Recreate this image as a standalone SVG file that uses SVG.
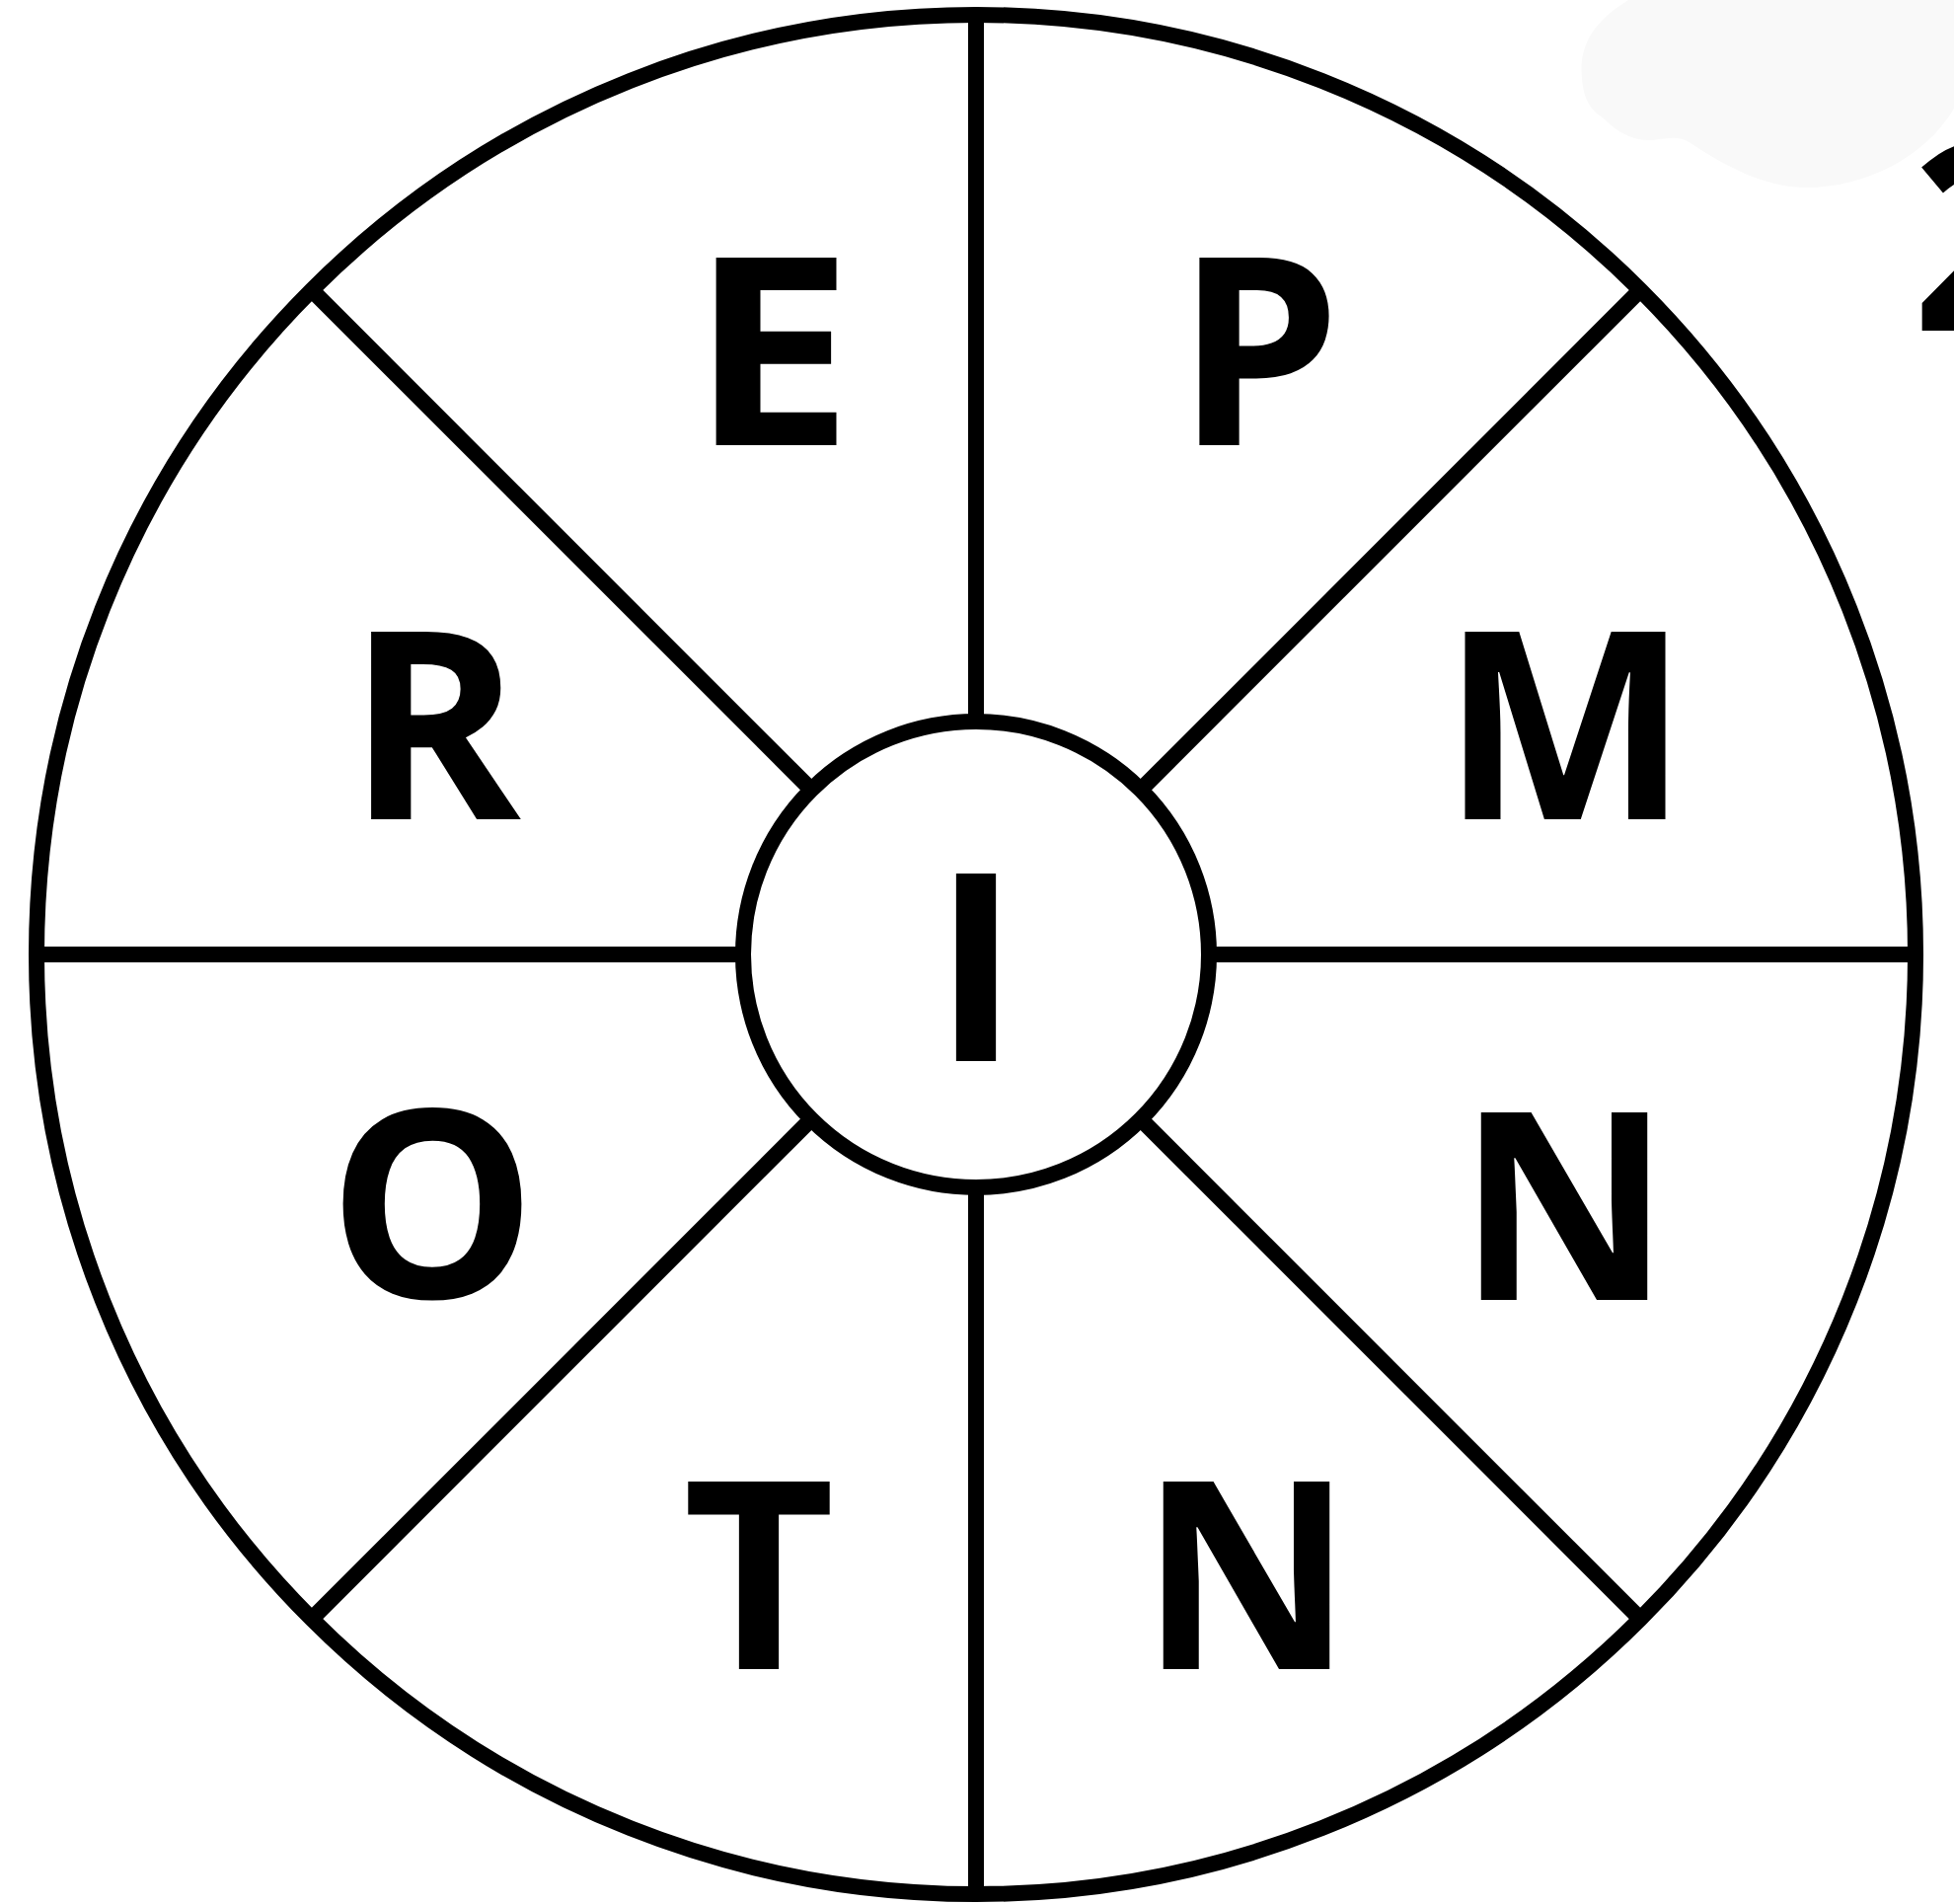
<svg xmlns="http://www.w3.org/2000/svg" width="1980" height="1929" viewBox="0 0 1980 1929">
<style>
.ring{fill:none;stroke:#000;stroke-width:16}
.spoke{stroke:#000;stroke-width:16;stroke-linecap:butt}
.lbl{font-family:"Open Sans","Liberation Sans",sans-serif;font-weight:700;font-size:266px;fill:#000;text-anchor:middle}
</style>
<rect width="1980" height="1929" fill="#fff"/>
<path d="M1650 0 C1610 25 1600 50 1603 80 C1605 100 1610 110 1625 120 C1640 135 1655 143 1675 142 C1690 140 1700 138 1710 143 C1750 170 1790 190 1830 190 C1890 190 1950 160 1980 110 L1980 0 Z" fill="#f9f9f9"/>
<g id="wheel">
<circle class="ring" cx="989" cy="967" r="952"/>
</g>
<g id="connectors">
<line class="spoke" x1="989" y1="731" x2="989" y2="15"/>
<line class="spoke" x1="989" y1="1203" x2="989" y2="1919"/>
<line class="spoke" x1="753" y1="967" x2="37" y2="967"/>
<line class="spoke" x1="1225" y1="967" x2="1941" y2="967"/>
<line class="spoke" x1="822" y1="800" x2="316" y2="294"/>
<line class="spoke" x1="1156" y1="800" x2="1662" y2="294"/>
<line class="spoke" x1="822" y1="1134" x2="316" y2="1640"/>
<line class="spoke" x1="1156" y1="1134" x2="1662" y2="1640"/>
</g>
<g id="node-I">
<circle cx="989" cy="967" r="236" fill="#fff" stroke="#000" stroke-width="16"/>
<text class="lbl" x="989" y="1075">I</text>
</g>
<g id="node-E"><text class="lbl" x="782" y="451" textLength="166" lengthAdjust="spacingAndGlyphs">E</text></g>
<g id="node-P"><text class="lbl" x="1275" y="451">P</text></g>
<g id="node-R"><text class="lbl" x="440" y="830">R</text></g>
<g id="node-M"><text class="lbl" x="1586" y="830">M</text></g>
<g id="node-O"><text class="lbl" x="438" y="1315">O</text></g>
<g id="node-N1"><text class="lbl" x="1585" y="1317">N</text></g>
<g id="node-T"><text class="lbl" x="769" y="1691">T</text></g>
<g id="node-N2"><text class="lbl" x="1263" y="1691">N</text></g>
<text class="lbl" x="1937" y="335" style="text-anchor:start">2</text>
</svg>
